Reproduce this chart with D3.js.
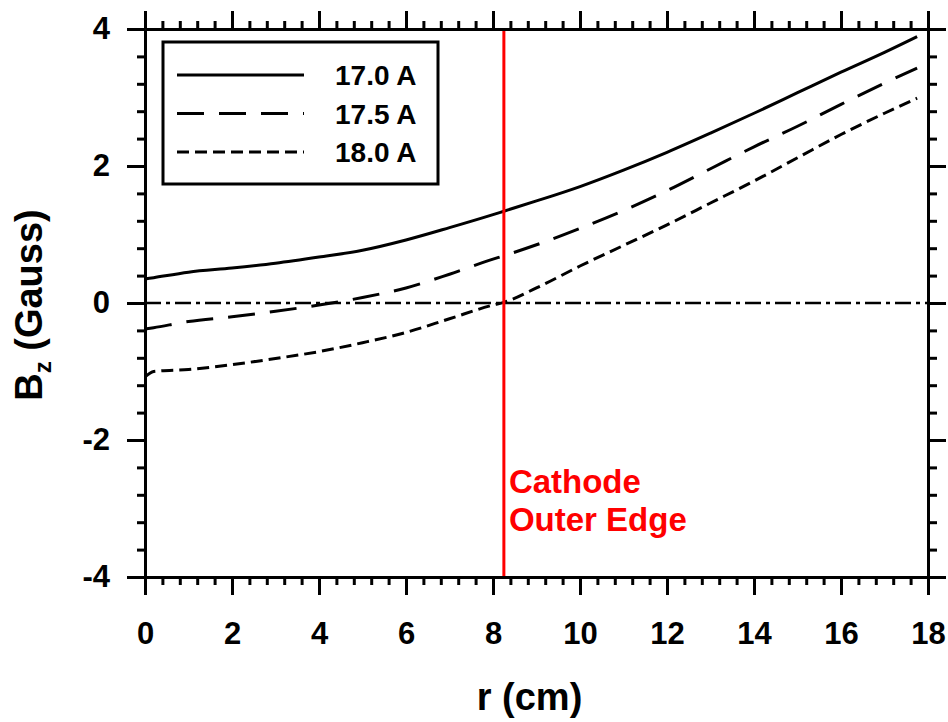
<!DOCTYPE html>
<html>
<head>
<meta charset="utf-8">
<script src="https://cdn.jsdelivr.net/npm/d3@7/dist/d3.min.js"></script>
<style>
  html, body { margin: 0; padding: 0; background: #fff; }
  svg { display: block; font-family: "Liberation Sans", Arial, sans-serif; font-weight: bold; }
</style>
</head>
<body>
<svg id="chart" width="948" height="722"></svg>
<script>
// ---- data ----
const rValues = [0, 0.2, 1, 2, 3, 4, 5, 6, 7, 8, 8.25, 9, 10, 11, 12, 13, 14, 15, 16, 17, 17.75];
const b170 = [0.35, 0.37, 0.45, 0.51, 0.58, 0.67, 0.77, 0.92, 1.10, 1.29, 1.34, 1.49, 1.70, 1.94, 2.20, 2.48, 2.77, 3.07, 3.37, 3.66, 3.89];
const b175 = [-0.38, -0.36, -0.27, -0.20, -0.12, -0.03, 0.08, 0.22, 0.42, 0.64, 0.69, 0.85, 1.09, 1.35, 1.64, 1.96, 2.28, 2.58, 2.90, 3.21, 3.43];
const b180 = [-1.08, -1.00, -0.97, -0.90, -0.81, -0.71, -0.58, -0.43, -0.23, -0.03, 0.01, 0.22, 0.54, 0.84, 1.14, 1.46, 1.78, 2.12, 2.46, 2.77, 2.99];
const seriesNames = ["17.0 A", "17.5 A", "18.0 A"];
const xMajorTicks = [0, 2, 4, 6, 8, 10, 12, 14, 16, 18];
const yMajorTicks = [-4, -2, 0, 2, 4];
const cathodeEdge = 8.25;
const cathodeLabel = ["Cathode", "Outer Edge"];
const xTitle = "r (cm)";

// ---- layout ----
const svg = d3.select("#chart");
const pLeft = 145, pRight = 928, pTop = 29, pBottom = 577;
const x = d3.scaleLinear().domain([0, 18]).range([pLeft, pRight]);
const y = d3.scaleLinear().domain([-4, 4]).range([pBottom, pTop]);
const minorStep = 0.4;
const xMinor = d3.range(0, 46).filter(i => i % 5 !== 0).map(i => +(i * minorStep).toFixed(2));
const yMinor = d3.range(0, 21).filter(i => i % 5 !== 0).map(i => +(-4 + i * minorStep).toFixed(2));

const series = [
  { name: seriesNames[0], vals: b170, dash: null },
  { name: seriesNames[1], vals: b175, dash: "27,15" },
  { name: seriesNames[2], vals: b180, dash: "12,6" }
];

// zero line (dash-dot)
svg.append("line")
  .attr("x1", x(0)).attr("x2", x(18)).attr("y1", y(0)).attr("y2", y(0))
  .attr("stroke", "#000").attr("stroke-width", 2.5)
  .attr("stroke-dasharray", "16,5,4,5");

// curves
const line = d3.line().x(d => x(d[0])).y(d => y(d[1])).curve(d3.curveMonotoneX);
series.forEach(s => {
  svg.append("path")
    .datum(rValues.map((r, i) => [r, s.vals[i]]))
    .attr("d", line)
    .attr("fill", "none").attr("stroke", "#000").attr("stroke-width", 3)
    .attr("stroke-dasharray", s.dash);
});

// cathode edge line
svg.append("line")
  .attr("x1", x(cathodeEdge)).attr("x2", x(cathodeEdge)).attr("y1", y(4)).attr("y2", y(-4))
  .attr("stroke", "#ff0000").attr("stroke-width", 3);
const cl = svg.append("text").attr("fill", "#ff0000").attr("font-size", 33).attr("font-weight", "bold");
cathodeLabel.forEach((t, i) => {
  cl.append("tspan").attr("x", x(cathodeEdge) + 5).attr("y", 493 + i * 38).text(t);
});

// axes
const fmt = d => String(d);
function styleAxis(g) {
  g.select(".domain").attr("stroke-width", 3);
  g.selectAll(".tick line").attr("stroke-width", 3);
  g.selectAll("text").attr("font-size", 31).attr("font-weight", "bold")
    .attr("font-family", "Liberation Sans, Arial, sans-serif").attr("fill", "#000");
}
// bottom
svg.append("g").attr("transform", `translate(0,${pBottom})`)
  .call(d3.axisBottom(x).tickValues(xMinor).tickSize(8).tickSizeOuter(0).tickFormat(""))
  .call(styleAxis);
svg.append("g").attr("transform", `translate(0,${pBottom})`)
  .call(d3.axisBottom(x).tickValues(xMajorTicks).tickSize(18).tickSizeOuter(0).tickPadding(27).tickFormat(fmt))
  .call(styleAxis);
// top
svg.append("g").attr("transform", `translate(0,${pTop})`)
  .call(d3.axisTop(x).tickValues(xMinor).tickSize(8).tickSizeOuter(0).tickFormat(""))
  .call(styleAxis);
svg.append("g").attr("transform", `translate(0,${pTop})`)
  .call(d3.axisTop(x).tickValues(xMajorTicks).tickSize(18).tickSizeOuter(0).tickFormat(""))
  .call(styleAxis);
// left
svg.append("g").attr("transform", `translate(${pLeft},0)`)
  .call(d3.axisLeft(y).tickValues(yMinor).tickSize(8).tickSizeOuter(0).tickFormat(""))
  .call(styleAxis);
svg.append("g").attr("transform", `translate(${pLeft},0)`)
  .call(d3.axisLeft(y).tickValues(yMajorTicks).tickSize(18).tickSizeOuter(0).tickPadding(17).tickFormat(fmt))
  .call(styleAxis);
// right
svg.append("g").attr("transform", `translate(${pRight},0)`)
  .call(d3.axisRight(y).tickValues(yMinor).tickSize(9).tickSizeOuter(0).tickFormat(""))
  .call(styleAxis);
svg.append("g").attr("transform", `translate(${pRight},0)`)
  .call(d3.axisRight(y).tickValues(yMajorTicks).tickSize(18).tickSizeOuter(0).tickFormat(""))
  .call(styleAxis);

// axis titles
svg.append("text").attr("x", (pLeft + pRight) / 2 - 7).attr("y", 710)
  .attr("text-anchor", "middle").attr("font-size", 38).attr("font-weight", "bold").text(xTitle);
const yt = svg.append("text")
  .attr("transform", "translate(42,305) rotate(-90)")
  .attr("text-anchor", "middle").attr("font-size", 38).attr("font-weight", "bold");
yt.append("tspan").text("B");
yt.append("tspan").attr("font-size", 24).attr("dy", 9).text("z");
yt.append("tspan").attr("dy", -9).text(" (Gauss)");

// legend
const lg = svg.append("g");
lg.append("rect").attr("x", 163).attr("y", 42).attr("width", 275).attr("height", 142)
  .attr("fill", "#fff").attr("stroke", "#000").attr("stroke-width", 3);
series.forEach((s, i) => {
  const ly = 75 + i * 38.5;
  lg.append("line").attr("x1", 177).attr("x2", 304).attr("y1", ly).attr("y2", ly)
    .attr("stroke", "#000").attr("stroke-width", 3).attr("stroke-dasharray", s.dash);
  lg.append("text").attr("x", 335).attr("y", ly + 10)
    .attr("font-size", 28).attr("font-weight", "bold").text(s.name);
});
</script>
</body>
</html>
